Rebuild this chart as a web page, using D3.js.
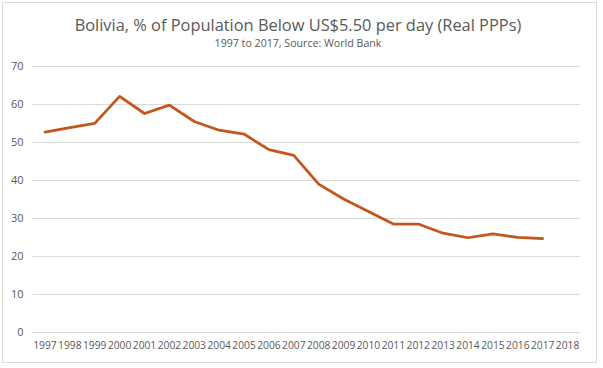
<!DOCTYPE html>
<html>
<head>
<meta charset="utf-8">
<script src="https://cdn.jsdelivr.net/npm/d3@7"></script>
<style>
  html, body { margin: 0; padding: 0; background: #fff; }
  svg { display: block; }
</style>
</head>
<body>
<svg id="chart" width="603" height="368"></svg>
<script>
const years = ["1997","1998","1999","2000","2001","2002","2003","2004","2005","2006","2007","2008","2009","2010","2011","2012","2013","2014","2015","2016","2017","2018"];
const dataYears = ["1997","1998","1999","2000","2001","2002","2003","2004","2005","2006","2007","2008","2009","2010","2011","2012","2013","2014","2015","2016","2017"];
const values = [52.6, 53.8, 54.9, 62.0, 57.5, 59.7, 55.4, 53.1, 52.1, 48.0, 46.5, 38.9, 35.0, 31.7, 28.4, 28.4, 26.0, 24.8, 25.8, 24.9, 24.6];
const yTicks = [0, 10, 20, 30, 40, 50, 60, 70];
const titleText = "Bolivia, % of Population Below US$5.50 per day (Real PPPs)";
const subtitleText = "1997 to 2017, Source: World Bank";

(function () {
const svg = d3.select("#chart");
const font = "'Open Sans', 'Liberation Sans', sans-serif";
const textColor = "#595959";

// chart border
svg.append("rect")
  .attr("x", 2.5).attr("y", 2.5)
  .attr("width", 594).attr("height", 360)
  .attr("fill", "#fff").attr("stroke", "#d9d9d9").attr("stroke-width", 1);

function fitText(sel, targetWidth) {
  const w = sel.node().getComputedTextLength();
  const fs = parseFloat(sel.attr("font-size"));
  sel.attr("font-size", fs * targetWidth / w);
}

const title = svg.append("text")
  .attr("x", 298).attr("y", 31)
  .attr("text-anchor", "middle")
  .attr("font-family", font).attr("font-size", 18)
  .attr("fill", textColor)
  .text(titleText);
fitText(title, 447);

const subtitle = svg.append("text")
  .attr("x", 298).attr("y", 47)
  .attr("text-anchor", "middle")
  .attr("font-family", font).attr("font-size", 10)
  .attr("fill", textColor)
  .text(subtitleText);
fitText(subtitle, 167);

const plotLeft = 32.5, plotRight = 580, plotTop = 66, plotBottom = 332;

const x = d3.scaleBand().domain(years).range([plotLeft, plotRight]).padding(0);
const y = d3.scaleLinear().domain([0, 70]).range([plotBottom, plotTop]);

// gridlines + y labels
const yAxis = d3.axisLeft(y).tickValues(yTicks).tickSize(-(plotRight - plotLeft)).tickPadding(9).tickFormat(d3.format("d"));
const gy = svg.append("g").attr("transform", `translate(${plotLeft},0)`).call(yAxis);
gy.select(".domain").remove();
gy.selectAll(".tick line").attr("stroke", "#d9d9d9").attr("stroke-width", 1);
gy.selectAll(".tick text")
  .attr("font-family", font).attr("font-size", 11)
  .attr("fill", textColor);

// x axis labels
const xAxis = d3.axisBottom(x).tickSize(0).tickPadding(0);
const gx = svg.append("g").attr("transform", `translate(0,${plotBottom})`).call(xAxis);
gx.select(".domain").attr("stroke", "#d9d9d9");
gx.selectAll(".tick text")
  .attr("font-family", font).attr("font-size", 11)
  .attr("fill", textColor)
  .attr("dy", null)
  .attr("y", 17)
  .each(function () { fitText(d3.select(this), 23.5); });

// line
const line = d3.line()
  .x((d, i) => x(dataYears[i]) + x.bandwidth() / 2)
  .y(d => y(d));

svg.append("path")
  .datum(values)
  .attr("d", line)
  .attr("fill", "none")
  .attr("stroke", "#C4551C")
  .attr("stroke-width", 2.75)
  .attr("stroke-linejoin", "round")
  .attr("stroke-linecap", "round");
})();
</script>
</body>
</html>
